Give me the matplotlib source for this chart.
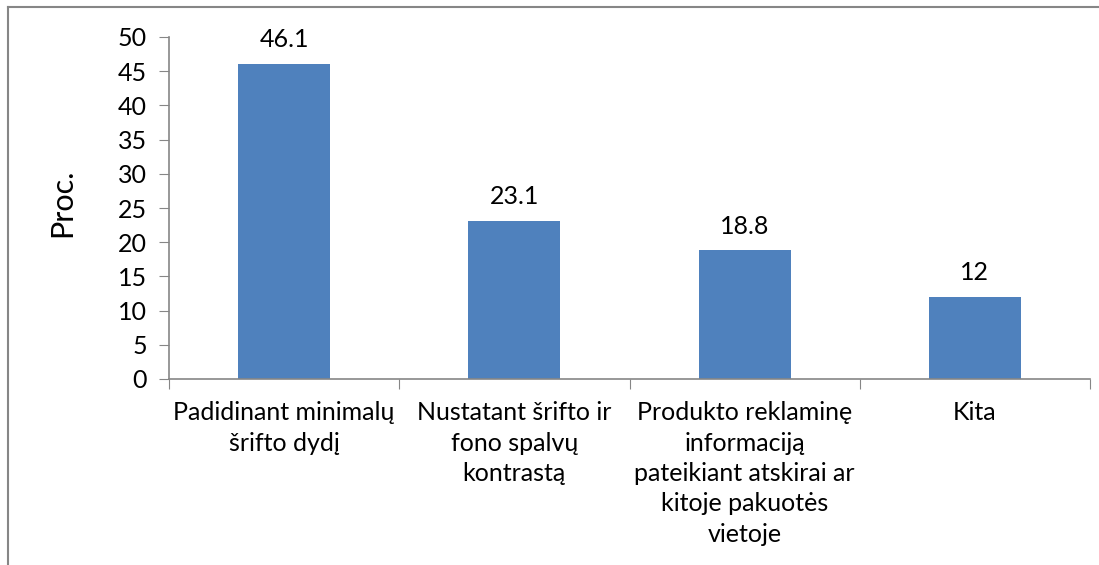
import matplotlib
matplotlib.use("Agg")
import matplotlib.pyplot as plt
from matplotlib.lines import Line2D

categories = ["Padidinant minimalų\nšrifto dydį",
              "Nustatant šrifto ir\nfono spalvų\nkontrastą",
              "Produkto reklaminę\ninformaciją\npateikiant atskirai ar\nkitoje pakuotės\nvietoje",
              "Kita"]
values = [46.1, 23.1, 18.8, 12]
value_labels = ["46.1", "23.1", "18.8", "12"]
yticks = [0, 5, 10, 15, 20, 25, 30, 35, 40, 45, 50]

plt.rcParams['font.family'] = ['Lato', 'DejaVu Sans']
W, H = 1099, 565
fig = plt.figure(figsize=(W/100, H/100), dpi=100)
ax = fig.add_axes([169/W, 1-379/H, (1090-169)/W, (379-37)/H])

gray = "#868686"
fs = 18
x = list(range(len(values)))
ax.bar(x, values, width=0.4, color="#4F81BD", zorder=2)
ax.set_xlim(-0.5, len(values)-0.5)
ax.set_ylim(0, 50)
ax.set_yticks(yticks)
ax.set_yticklabels([str(t) for t in yticks], fontsize=fs)
ax.set_xticks([i - 0.5 for i in range(len(values)+1)], minor=False)
ax.set_xticklabels([])
ax.set_xticks(x, minor=True)
ax.set_xticklabels(categories, minor=True, fontsize=fs, linespacing=1.39, va="top")
ax.tick_params(axis="x", which="minor", length=0, pad=16)
ax.tick_params(axis="x", which="major", length=7, color=gray, direction="out")
ax.tick_params(axis="y", length=7, color=gray, direction="out", pad=9)
for s in ["top", "right"]:
    ax.spines[s].set_visible(False)
for s in ["left", "bottom"]:
    ax.spines[s].set_color(gray)
    ax.spines[s].set_linewidth(1.2)

for xi, v, lab in zip(x, values, value_labels):
    ax.annotate(lab, (xi, v), xytext=(0, 9), textcoords="offset points",
                ha="center", va="bottom", fontsize=fs)

ax.set_ylabel("Proc.", fontsize=22)
ax.yaxis.set_label_coords(-0.101, 0.515)

# outer frame (left and top)
fig.add_artist(Line2D([8/W, 8/W], [0, 1-7/H], transform=fig.transFigure, color=gray, lw=1.5))
fig.add_artist(Line2D([8/W, 1], [1-7/H, 1-7/H], transform=fig.transFigure, color=gray, lw=1.5))

fig.savefig("out.png", dpi=100)
